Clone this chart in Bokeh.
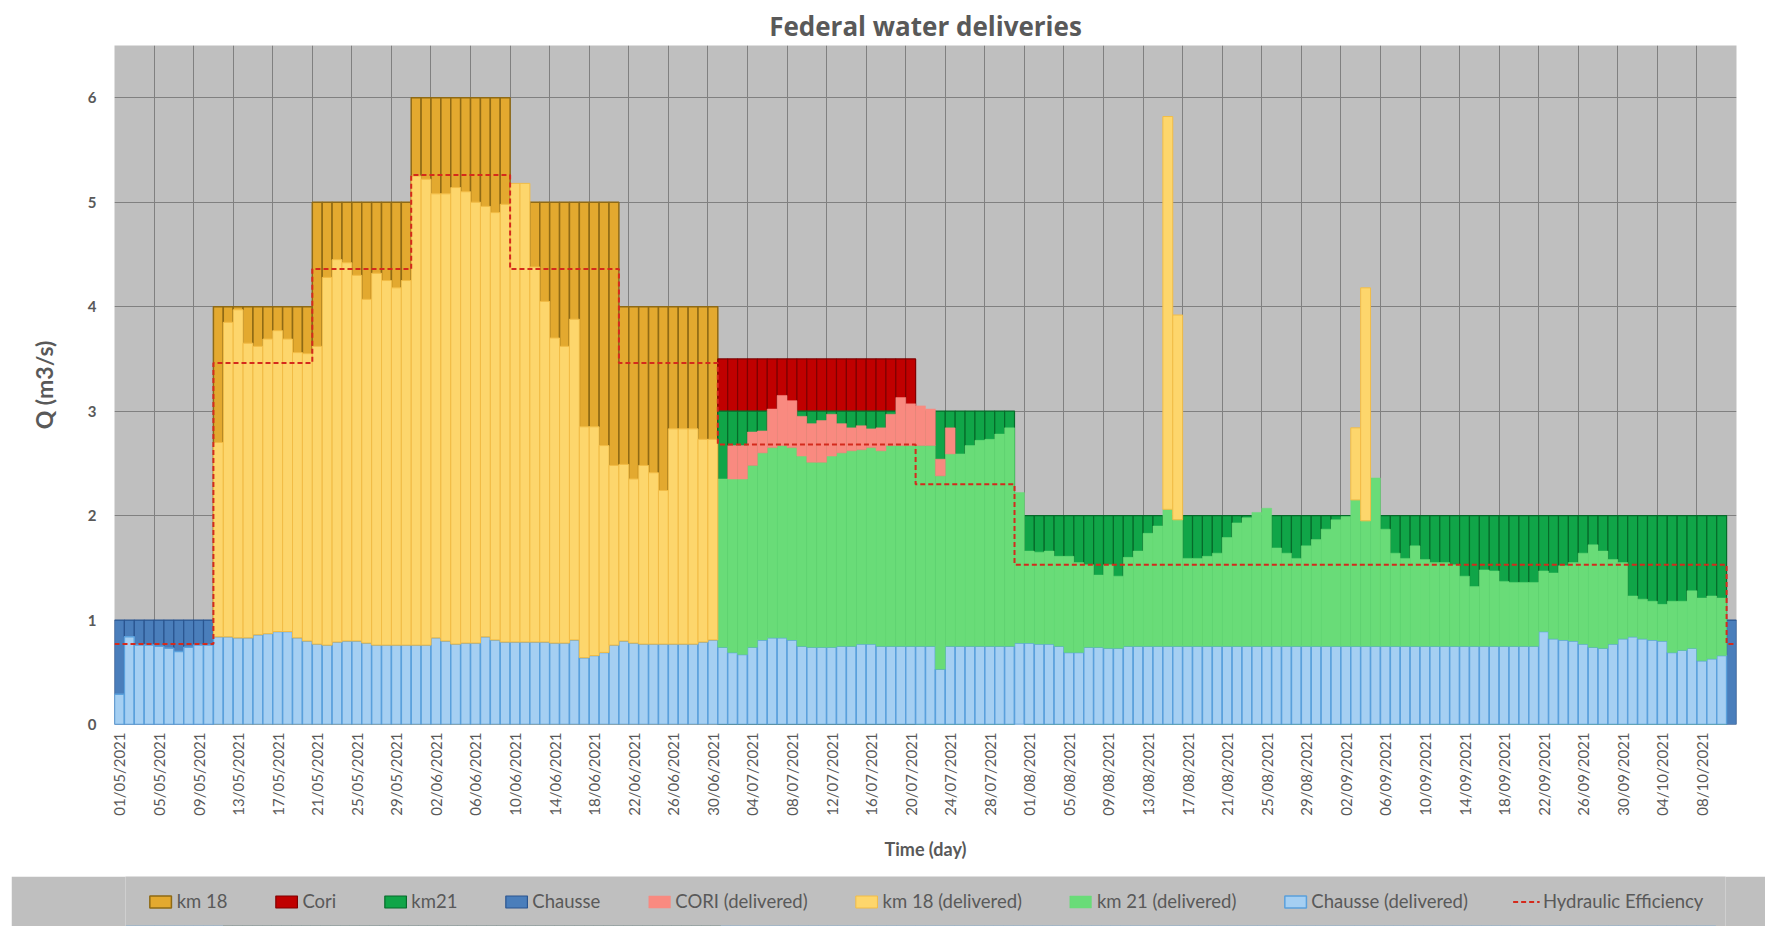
import math
import datetime as dt
from bokeh.plotting import figure
from bokeh.models import (ColumnDataSource, FixedTicker, Range1d, Legend, LegendItem, Title)
from bokeh.layouts import column
from bokeh.embed import file_html
from bokeh.resources import INLINE

# ---------------- data ----------------
start = dt.date(2021, 5, 1)
days = [(start + dt.timedelta(days=i)).strftime("%d/%m/%Y") for i in range(164)]
tick_days = list(range(0, 164, 4))

# capacities (m3/s)
km18_cap = [0.0] * 10 + [4.0] * 10 + [5.0] * 10 + [6.0] * 10 + [5.0] * 11 + [4.0] * 10 + [0.0] * 103
cori_cap = [0.0] * 61 + [3.5] * 20 + [0.0] * 83
km21_cap = [0.0] * 61 + [3.0] * 30 + [0.0] * 1 + [2.0] * 71 + [0.0] * 1
chausse_cap = [1.0] * 10 + [0.0] * 153 + [1.0] * 1

# deliveries (m3/s)
chausse_del = [
    0.29, 0.84, 0.76, 0.76, 0.75, 0.73, 0.70, 0.74, 0.76, 0.76,
    0.84, 0.84, 0.83, 0.83, 0.86, 0.87, 0.89, 0.89, 0.83, 0.80,
    0.77, 0.76, 0.79, 0.80, 0.80, 0.78, 0.76, 0.76, 0.76, 0.76,
    0.76, 0.76, 0.83, 0.80, 0.77, 0.78, 0.78, 0.84, 0.81, 0.79,
    0.79, 0.79, 0.79, 0.79, 0.78, 0.78, 0.81, 0.64, 0.66, 0.69,
    0.76, 0.80, 0.78, 0.77, 0.77, 0.77, 0.77, 0.77, 0.77, 0.79,
    0.81, 0.74, 0.69, 0.67, 0.74, 0.81, 0.83, 0.83, 0.81, 0.75,
    0.74, 0.74, 0.74, 0.75, 0.75, 0.77, 0.77, 0.75, 0.75, 0.75,
    0.75, 0.75, 0.75, 0.53, 0.75, 0.75, 0.75, 0.75, 0.75, 0.75,
    0.75, 0.78, 0.78, 0.77, 0.77, 0.75, 0.69, 0.69, 0.74, 0.74,
    0.73, 0.73, 0.75, 0.75, 0.75, 0.75, 0.75, 0.75, 0.75, 0.75,
    0.75, 0.75, 0.75, 0.75, 0.75, 0.75, 0.75, 0.75, 0.75, 0.75,
    0.75, 0.75, 0.75, 0.75, 0.75, 0.75, 0.75, 0.75, 0.75, 0.75,
    0.75, 0.75, 0.75, 0.75, 0.75, 0.75, 0.75, 0.75, 0.75, 0.75,
    0.75, 0.75, 0.75, 0.75, 0.89, 0.82, 0.81, 0.80, 0.77, 0.74,
    0.73, 0.77, 0.82, 0.84, 0.82, 0.81, 0.80, 0.69, 0.71, 0.73,
    0.61, 0.63, 0.66, 0.00,
]

km18_del = [0.0] * 10 + [
    1.86, 3.01, 3.14, 2.82, 2.76, 2.82, 2.88, 2.80, 2.73, 2.75,
    2.85, 3.52, 3.66, 3.62, 3.50, 3.29, 3.56, 3.49, 3.42, 3.49,
    4.49, 4.46, 4.25, 4.28, 4.37, 4.32, 4.22, 4.12, 4.09, 4.19,
    4.39, 4.39, 3.59, 3.26, 2.92, 2.84, 3.07, 2.21, 2.19, 1.98,
    1.72, 1.69, 1.57, 1.71, 1.64, 1.47, 2.06, 2.06, 2.06, 1.94,
    1.92,
] + [0.0] * 45 + [3.76, 1.96] + [0.0] * 17 + [0.69, 2.23] + [0.0] * 37

km21_del = [0.0] * 61 + [
    1.61, 1.66, 1.68, 1.74, 1.79, 1.82, 1.84, 1.84, 1.82,
    1.77, 1.77, 1.83, 1.85, 1.87, 1.86, 1.88, 1.87, 1.92, 1.92,
    1.92, 1.92, 1.92, 1.85, 1.84, 1.84, 1.92, 1.97, 1.98, 2.03,
    2.09, 1.44, 0.88, 0.88, 0.89, 0.86, 0.92, 0.86, 0.79, 0.69,
    0.80, 0.69, 0.85, 0.91, 1.08, 1.15, 1.31, 1.21, 0.84, 0.84,
    0.86, 0.89, 1.04, 1.18, 1.23, 1.28, 1.32, 0.94, 0.89, 0.84,
    0.96, 1.02, 1.12, 1.21, 1.24, 1.40, 1.20, 1.61, 1.12, 0.89,
    0.84, 0.96, 0.83, 0.80, 0.80, 0.78, 0.67, 0.57, 0.73, 0.72,
    0.62, 0.61, 0.61, 0.61, 0.58, 0.63, 0.71, 0.75, 0.87, 0.98,
    0.93, 0.81, 0.73, 0.39, 0.38, 0.37, 0.35, 0.49, 0.47, 0.55,
    0.60, 0.60, 0.55,
] + [0.0]

cori_del = [0.0] * 62 + [
    0.32, 0.32, 0.32, 0.21, 0.37, 0.48, 0.45, 0.38,
    0.37, 0.40, 0.40, 0.28, 0.22, 0.23, 0.18, 0.22, 0.30, 0.46,
    0.40, 0.38, 0.35, 0.16, 0.25,
] + [0.0] * 79

efficiency = ([0.77] * 10 + [3.46] * 10 + [4.36] * 10 + [5.26] * 10 + [4.36] * 11 +
              [3.46] * 10 + [2.68] * 20 + [2.30] * 10 + [1.53] * 72 + [0.77] * 1)

legend_labels = ["km 18", "Cori", "km21", "Chausse", "CORI (delivered)", "km 18 (delivered)",
                 "km 21 (delivered)", "Chausse (delivered)", "Hydraulic Efficiency"]

# ---------------- styles ----------------
FONT = "Lato"
TXT = "#595959"
styles = {
    "km18_cap": dict(fill_color="#e3a92f", line_color="#8f6a15", line_width=1.5),
    "cori_cap": dict(fill_color="#c00000", line_color="#800000", line_width=1.2),
    "km21_cap": dict(fill_color="#10a548", line_color="#066b2a", line_width=1.2),
    "chausse_cap": dict(fill_color="#4a7ebb", line_color="#2a5590", line_width=1.2),
    "cori_del": dict(fill_color="#f98a80", line_color="#f98a80", line_width=0.5),
    "km18_del": dict(fill_color="#fdd66c", line_color="#f2bc46", line_width=1.0),
    "km21_del": dict(fill_color="#69dc78", line_color="#69dc78", line_width=0.5),
    "chausse_del": dict(fill_color="#a5cff2", line_color="#5aa0dc", line_width=1.5),
}
EFF = dict(line_color="#d42a1c", line_width=2, line_dash="5 3")

n = len(days)
xs = list(range(n))

p = figure(width=1776, height=876, x_range=Range1d(-0.5, n - 0.5), y_range=Range1d(0, 6.5),
           toolbar_location=None, output_backend="svg",
           min_border_left=112, min_border_right=40, min_border_top=45, min_border_bottom=151)
p.background_fill_color = "#bfbfbf"
p.border_fill_color = "white"
p.outline_line_color = None


def bar_source(bottom, top):
    keep = [i for i in xs if top[i] - bottom[i] > 1e-9]
    return ColumnDataSource(dict(x=[xs[i] for i in keep],
                                 bottom=[bottom[i] for i in keep],
                                 top=[top[i] for i in keep]))


zero = [0.0] * n
t_ch = chausse_del
t_21 = [a + b for a, b in zip(t_ch, km21_del)]
t_co = [a + b for a, b in zip(t_21, cori_del)]
t_18 = [a + b for a, b in zip(t_co, km18_del)]

series = [  # (style key, bottom, top) in drawing order
    ("km18_cap", zero, km18_cap),
    ("cori_cap", zero, cori_cap),
    ("km21_cap", zero, km21_cap),
    ("chausse_cap", zero, chausse_cap),
    ("chausse_del", zero, t_ch),
    ("km21_del", t_ch, t_21),
    ("cori_del", t_21, t_co),
    ("km18_del", t_co, t_18),
]
sources = {}
for key, b, t in series:
    sources[key] = bar_source(b, t)
    p.vbar(x="x", bottom="bottom", top="top", width=1.0, source=sources[key], **styles[key])

ex, ey = [], []
for i, e in enumerate(efficiency):
    ex += [i - 0.5, i + 0.5]
    ey += [e, e]
eff_src = ColumnDataSource(dict(x=ex, y=ey))
p.line(x="x", y="y", source=eff_src, **EFF)

# title / axes / grid
p.title.text = "Federal water deliveries"
p.title.align = "center"
p.title.text_font = "Open Sans"
p.title.text_font_size = "26px"
p.title.text_font_style = "bold"
p.title.text_color = TXT
p.title.standoff = 4

p.xaxis.ticker = FixedTicker(ticks=tick_days)
p.xaxis.major_label_overrides = {i: days[i] for i in tick_days}
p.xaxis.major_label_orientation = math.pi / 2
p.xaxis.major_label_text_font = FONT
p.xaxis.major_label_text_font_size = "15px"
p.xaxis.major_label_text_color = TXT
p.xaxis.major_label_standoff = 8

p.yaxis.ticker = FixedTicker(ticks=[0, 1, 2, 3, 4, 5, 6])
p.yaxis.major_label_text_font = FONT
p.yaxis.major_label_text_font_size = "15px"
p.yaxis.major_label_text_font_style = "bold"
p.yaxis.major_label_text_color = TXT
p.yaxis.major_label_standoff = 18

for ax in (p.xaxis, p.yaxis):
    ax.axis_line_color = None
    ax.major_tick_line_color = None
    ax.minor_tick_line_color = None
    ax.major_tick_out = 0
    ax.major_tick_in = 0

p.xgrid.ticker = FixedTicker(ticks=[-0.5 + 4 * k for k in range(41)])
p.xgrid.grid_line_color = "#808080"
p.ygrid.grid_line_color = "#808080"

p.add_layout(Title(text="Time (day)", align="center", standoff=34,
                   text_font=FONT, text_font_size="18px", text_font_style="bold",
                   text_color=TXT), "below")
p.add_layout(Title(text="Q (m3/s)", align="center", standoff=54,
                   text_font=FONT, text_font_size="23px", text_font_style="bold",
                   text_color=TXT), "left")

# ---------------- legend band ----------------
leg = figure(width=1754, height=50, x_range=Range1d(-0.5, n - 0.5), y_range=Range1d(100, 101),
             toolbar_location=None, output_backend="svg", x_axis_type=None, y_axis_type=None,
             min_border=0, margin=(0, 0, 0, 11), title=None)
leg.background_fill_color = "#bfbfbf"
leg.background_fill_alpha = 1.0
leg.border_fill_color = "#bfbfbf"
leg.outline_line_color = None
leg.grid.visible = False

legend_keys = ["km18_cap", "cori_cap", "km21_cap", "chausse_cap", "cori_del", "km18_del",
               "km21_del", "chausse_del"]
items = []
for lab, key in zip(legend_labels[:-1], legend_keys):
    r = leg.vbar(x="x", bottom="bottom", top="top", width=1.0, source=sources[key], **styles[key])
    items.append(LegendItem(label=lab, renderers=[r]))
rl = leg.line(x="x", y="y", source=eff_src, **EFF)
items.append(LegendItem(label=legend_labels[-1], renderers=[rl]))

legend = Legend(items=items, orientation="horizontal", location="center",
                spacing=45, label_standoff=3, glyph_width=27, glyph_height=15,
                background_fill_alpha=0, border_line_alpha=0, padding=0, margin=0,
                label_text_font=FONT, label_text_font_size="18.5px", label_text_color=TXT)
leg.add_layout(legend, "center")

layout = column(p, leg, spacing=0)
open("out.html", "w").write(file_html(layout, INLINE))
